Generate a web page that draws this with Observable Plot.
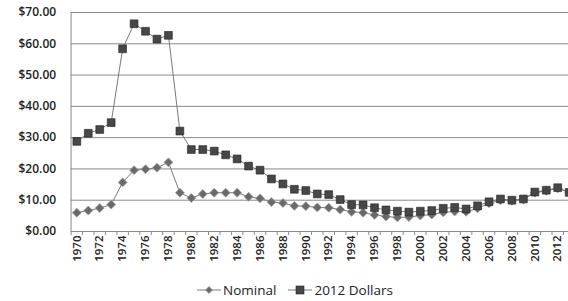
<!DOCTYPE html>
<html><head><meta charset="utf-8">
<script src="https://cdn.jsdelivr.net/npm/d3@7"></script>
<script src="https://cdn.jsdelivr.net/npm/@observablehq/plot@0.6"></script>
<style>
body{margin:0;background:#fff;font-family:"Open Sans",sans-serif;}
#chart{width:568px;height:301px;overflow:hidden;}
#legend{display:flex;justify-content:center;align-items:center;height:23px;padding-left:22px;font-size:13.5px;color:#222;font-weight:500;}
#legend .item{display:flex;align-items:center;margin:0 6px;}
#legend svg{margin-right:2px;}
</style></head><body><div id="chart"></div>
<script>
const years = d3.range(1970, 2014);
const nominal = [6.0, 6.7, 7.5, 8.6, 15.7, 19.6, 19.9, 20.4, 22.1, 12.4,
  10.7, 12.0, 12.4, 12.4, 12.4, 11.1, 10.6, 9.4, 9.1, 8.2,
  8.1, 7.7, 7.6, 7.0, 6.3, 6.0, 5.3, 4.8, 4.5, 4.6,
  5.1, 5.4, 6.1, 6.4, 6.3, 7.4, 9.0, 10.0, 9.8, 10.2,
  12.4, 13.0, 13.8, 12.6];
const dollars2012 = [28.8, 31.4, 32.6, 34.8, 58.4, 66.4, 64.0, 61.5, 62.7, 32.1,
  26.2, 26.2, 25.7, 24.5, 23.2, 20.9, 19.6, 16.8, 15.2, 13.5,
  13.1, 12.0, 11.8, 10.2, 8.6, 8.5, 7.6, 6.9, 6.5, 6.2,
  6.5, 6.7, 7.4, 7.7, 7.2, 8.2, 9.5, 10.4, 10.0, 10.4,
  12.6, 13.2, 14.0, 12.5];
const seriesNames = ["Nominal", "2012 Dollars"];
const yTicks = [0, 10, 20, 30, 40, 50, 60, 70];
const xLabelYears = d3.range(1970, 2013, 2);
const bandEdges = d3.range(1969.5, 2014, 1);

const nomData = years.map((yr, i) => ({year: yr, value: nominal[i], series: seriesNames[0]}));
const realData = years.map((yr, i) => ({year: yr, value: dollars2012[i], series: seriesNames[1]}));

const lineColor = "#7a7a7a";
const gridColor = "#8a8a8a";
const chart = Plot.plot({
  width: 568,
  height: 278,
  marginLeft: 70.6,
  marginRight: -6.4,
  marginTop: 12,
  marginBottom: 47,
  style: {fontFamily: "'Open Sans', sans-serif", fontSize: "12px", color: "#222", background: "#fff", overflow: "hidden"},
  x: {type: "linear", domain: [1969.5, 2013.5]},
  y: {domain: [0, 70]},
  marks: [
    Plot.ruleY(yTicks, {stroke: gridColor, strokeWidth: 1}),
    Plot.ruleX([1969.5], {y1: 0, y2: 70, stroke: gridColor, strokeWidth: 1}),
    Plot.axisY(yTicks, {tickSize: 0, tickPadding: 15, tickFormat: d => "$" + d.toFixed(2), fontSize: 12, fontWeight: 600, label: null}),
    Plot.axisX(bandEdges, {tickSize: 4, tickFormat: () => "", stroke: gridColor, label: null}),
    Plot.axisX(xLabelYears, {tickSize: 0, tickPadding: 4, tickRotate: -90, tickFormat: d => String(d), fontSize: 11.5, fontWeight: 600, label: null}),
    Plot.line(realData, {x: "year", y: "value", stroke: lineColor, strokeWidth: 1}),
    Plot.line(nomData, {x: "year", y: "value", stroke: lineColor, strokeWidth: 1}),
    Plot.dot(nomData, {x: "year", y: "value", symbol: "diamond2", r: 4, fill: "#6a6a6a", stroke: "#9a9a9a", strokeWidth: 0.8}),
    Plot.dot(realData, {x: "year", y: "value", symbol: "square", r: 4.4, fill: "#474747", stroke: "#222", strokeWidth: 0.6})
  ]
});
document.getElementById("chart").appendChild(chart);

const legend = document.createElement("div");
legend.id = "legend";
const icons = [
  `<svg width="24" height="12"><line x1="0" y1="6" x2="24" y2="6" stroke="${lineColor}"/><path d="M12,2.5L15.5,6L12,9.5L8.5,6Z" fill="#6a6a6a" stroke="#9a9a9a" stroke-width="0.8"/></svg>`,
  `<svg width="24" height="12"><line x1="0" y1="6" x2="24" y2="6" stroke="${lineColor}"/><rect x="8" y="2" width="8" height="8" fill="#474747" stroke="#222" stroke-width="0.6"/></svg>`
];
seriesNames.forEach((name, i) => {
  const it = document.createElement("div");
  it.className = "item";
  it.innerHTML = icons[i] + `<span>${name}</span>`;
  legend.appendChild(it);
});
document.getElementById("chart").appendChild(legend);
</script>
</body></html>
